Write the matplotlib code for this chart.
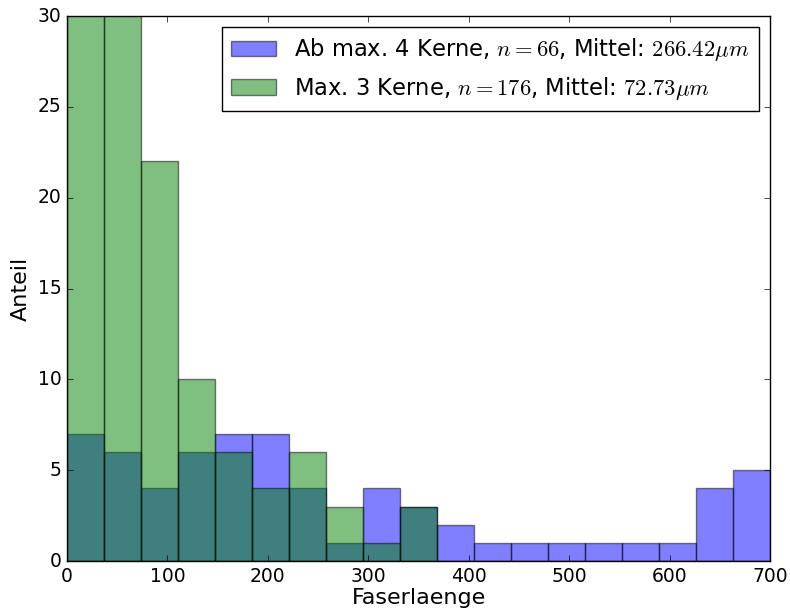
import numpy as np
import matplotlib
matplotlib.use('Agg')
import matplotlib.pyplot as plt

plt.style.use('classic')

# Bin edges and counts (19 bins from 0 to 700)
edges = np.linspace(0, 700, 20)
blue_counts = [7, 6, 4, 6, 7, 7, 4, 1, 4, 3, 2, 1, 1, 1, 1, 1, 1, 4, 5]
green_counts = [62, 59, 22, 10, 6, 4, 6, 3, 1, 3, 0, 0, 0, 0, 0, 0, 0, 0, 0]
blue_label = r'Ab max. 4 Kerne, $n=66$, Mittel: $266.42\mu m$'
green_label = r'Max. 3 Kerne, $n=176$, Mittel: $72.73\mu m$'

fig = plt.figure(figsize=(7.9, 6.11), dpi=100, facecolor='white')
ax = fig.add_axes([0.0848, 0.0818, 0.8899, 0.892])

centers = (edges[:-1] + edges[1:]) / 2
ax.hist(centers, bins=edges, weights=blue_counts, color='b', alpha=0.5, label=blue_label)
ax.hist(centers, bins=edges, weights=green_counts, color='g', alpha=0.5, label=green_label)

ax.set_xlim(0, 700)
ax.set_ylim(0, 30)
ax.set_xlabel('Faserlaenge', fontsize=16, labelpad=2)
ax.set_ylabel('Anteil', fontsize=16)
ax.tick_params(labelsize=13.5)
ax.legend(loc='upper right', fontsize=16.3)

fig.savefig('out.png', dpi=100, facecolor='white')
